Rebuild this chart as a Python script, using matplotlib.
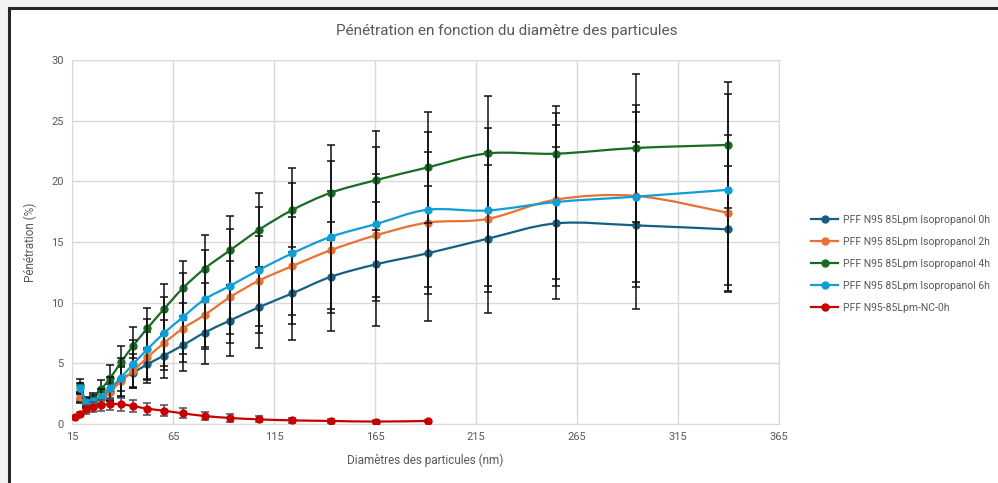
import numpy as np
from matplotlib import pyplot as plt
from matplotlib.path import Path
from matplotlib.patches import PathPatch, Rectangle

plt.rcParams['font.family'] = ['Roboto', 'DejaVu Sans']

# diamètres (nm)
diam = [16.5, 19.1, 22.1, 25.5, 29.4, 34.0, 39.2, 45.3, 52.3, 60.4, 69.8,
        80.6, 93.1, 107.5, 124.1, 143.3, 165.5, 191.1, 220.7, 254.8, 294.3, 339.8]

# séries isopropanol : commencent à 19.1 nm
iso_0h = [2.1, 1.7, 1.76, 2.1, 2.6, 3.68, 4.23, 4.92, 5.63, 6.48, 7.53, 8.52,
          9.62, 10.77, 12.14, 13.16, 14.07, 15.27, 16.54, 16.37, 16.04]
iso_0h_err = [0.4, 0.35, 0.4, 0.5, 0.7, 1.0, 1.2, 1.2, 1.8, 2.1, 2.6, 2.95,
              3.36, 3.83, 4.5, 5.1, 5.55, 6.1, 6.26, 6.87, 5.2]
iso_2h = [2.25, 1.76, 1.84, 2.1, 2.66, 3.54, 4.37, 5.49, 6.65, 7.86, 8.98, 10.44,
          11.81, 13.02, 14.34, 15.55, 16.6, 16.9, 18.5, 18.8, 17.4]
iso_2h_err = [0.4, 0.35, 0.4, 0.55, 0.8, 1.2, 1.4, 2.1, 1.9, 2.1, 2.6, 3.03,
              3.7, 4.05, 4.9, 5.05, 5.85, 5.5, 7.1, 7.5, 6.4]
iso_4h = [3.2, 1.76, 2.1, 2.86, 3.8, 5.08, 6.46, 7.88, 9.45, 11.18, 12.8, 14.3,
          16.0, 17.64, 19.07, 20.1, 21.15, 22.3, 22.28, 22.75, 23.0]
iso_4h_err = [0.55, 0.4, 0.45, 0.77, 1.05, 1.35, 1.57, 1.65, 2.1, 2.25, 2.75, 2.87,
              3.06, 3.5, 3.93, 4.07, 4.6, 4.75, 3.96, 6.1, 5.2]
iso_6h = [2.94, 1.84, 1.92, 2.25, 2.94, 3.82, 4.95, 6.15, 7.47, 8.79, 10.27, 11.37,
          12.69, 14.07, 15.44, 16.48, 17.66, 17.6, 18.3, 18.74, 19.3]
iso_6h_err = [0.45, 0.4, 0.45, 0.6, 0.9, 1.6, 2.0, 2.5, 3.0, 3.68, 4.1, 4.67,
              5.2, 5.8, 6.26, 6.37, 6.4, 6.76, 6.37, 7.0, 7.86]

# série NC : de 16.5 à 191.1 nm
nc_0h = [0.55, 0.82, 1.2, 1.43, 1.54, 1.65, 1.62, 1.48, 1.26, 1.1, 0.88, 0.66,
         0.5, 0.38, 0.3, 0.25, 0.2, 0.25]
nc_0h_err = [0.15, 0.2, 0.35, 0.4, 0.45, 0.5, 0.55, 0.5, 0.5, 0.45, 0.4, 0.35,
             0.3, 0.25, 0.2, 0.15, 0.1, 0.1]

labels = ['PFF N95 85Lpm Isopropanol 0h', 'PFF N95 85Lpm Isopropanol 2h',
          'PFF N95 85Lpm Isopropanol 4h', 'PFF N95 85Lpm Isopropanol 6h',
          'PFF N95-85Lpm-NC-0h']
colours = ['#156082', '#E97132', '#196B24', '#0F9ED5', '#C80000']
grey_txt = '#595959'


def smooth_path(x, y):
    # courbe lissée façon Excel (Bézier de type Catmull-Rom)
    p = np.column_stack([x, y])
    verts = [p[0]]
    codes = [Path.MOVETO]
    n = len(p)
    for i in range(n - 1):
        p0 = p[i - 1] if i > 0 else p[i]
        p3 = p[i + 2] if i + 2 < n else p[i + 1]
        c1 = p[i] + (p[i + 1] - p0) / 6
        c2 = p[i + 1] - (p3 - p[i]) / 6
        verts += [c1, c2, p[i + 1]]
        codes += [Path.CURVE4] * 3
    return Path(verts, codes)


fig = plt.figure(figsize=(9.98, 4.83), dpi=100, facecolor='#f2f2f2')
# cadre blanc avec bord sombre (pas de bord en bas ni à droite)
fig.patches.append(Rectangle((9 / 998, -0.02), 1, 1.02 - 8 / 483, transform=fig.transFigure,
                             facecolor='white', edgecolor='#262626', linewidth=2.2,
                             zorder=-5))
ax = fig.add_axes([72 / 998, 1 - 424 / 483, (779 - 72) / 998, (424 - 60) / 483])
ax.set_facecolor('white')

series = [(diam[1:], iso_0h, iso_0h_err), (diam[1:], iso_2h, iso_2h_err),
          (diam[1:], iso_4h, iso_4h_err), (diam[1:], iso_6h, iso_6h_err),
          (diam[:len(nc_0h)], nc_0h, nc_0h_err)]

for k, (x, y, e) in enumerate(series):
    ecol = '#4d4d4d' if k == 4 else '#111111'
    ax.errorbar(x, y, yerr=e, fmt='none', ecolor=ecol, elinewidth=1.1,
                capsize=2.6, capthick=1.1, zorder=3 + k)
    ax.add_patch(PathPatch(smooth_path(x, y), fill=False, edgecolor=colours[k],
                           linewidth=1.6, zorder=3 + k))
    ax.plot(x, y, 'o', color=colours[k], markersize=5, zorder=3 + k)
    ax.plot([], [], '-o', color=colours[k], markersize=5, linewidth=1.6,
            label=labels[k])

ax.set_xlim(15, 365)
ax.set_ylim(0, 30)
ax.set_xticks(np.arange(15, 366, 50))
ax.set_yticks(np.arange(0, 31, 5))
ax.grid(True, color='#d9d9d9', linewidth=1)
ax.set_axisbelow(True)
for s in ax.spines.values():
    s.set_color('#d9d9d9')
ax.tick_params(length=0, labelsize=8, labelcolor=grey_txt, pad=6)

ax.set_xlabel('Diamètres des particules (nm)', fontsize=8.5, color=grey_txt, labelpad=8)
ax.set_ylabel('Pénétration (%)', fontsize=8.5, color=grey_txt, labelpad=10)
fig.text(507 / 998, 1 - 31 / 483, 'Pénétration en fonction du diamètre des particules',
         ha='center', va='center', fontsize=11, color=grey_txt)

fig.legend(loc='center left', bbox_to_anchor=(802 / 998, 1 - 264 / 483),
           frameon=False, fontsize=7.5, labelcolor=grey_txt, handlelength=2.6,
           labelspacing=1.15, handletextpad=0.4)

fig.savefig('out.png', dpi=100, facecolor=fig.get_facecolor())
